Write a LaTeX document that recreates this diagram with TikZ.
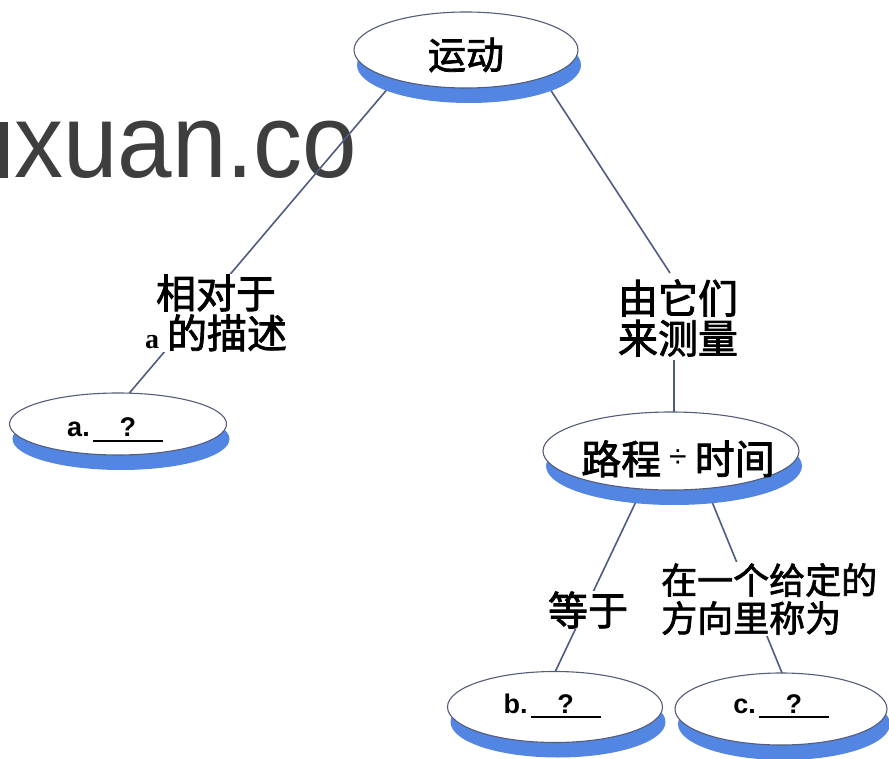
\documentclass[tikz,border=0pt]{standalone}
\usepackage{fontspec}
\usetikzlibrary{shapes.geometric,shadows}
\newfontfamily\cjk{Noto Sans CJK SC}[FakeBold=2]
\newfontfamily\lsans{Liberation Sans}
\newfontfamily\lserif{Liberation Serif}
\pgfdeclarelayer{bg}
\pgfsetlayers{bg,main}
\definecolor{diskblue}{RGB}{82,134,226}
\definecolor{ringc}{RGB}{85,92,120}
\definecolor{connc}{RGB}{78,92,130}
\definecolor{wmark}{RGB}{62,62,62}
\newcommand\intext[2]{\smash{\makebox[0pt]{\raisebox{#1}{#2}}}}
\newcommand\blank[1]{{\lsans\bfseries\fontsize{27}{27}\selectfont #1.}\hspace{3pt}\rlap{\rule[-5pt]{70pt}{1.8pt}}\makebox[70pt]{\lsans\bfseries\fontsize{27}{27}\selectfont ?}}
\tikzset{
  disk/.style={ellipse, draw=ringc, line width=1.1pt, fill=white, inner sep=0pt,
    drop shadow={shadow xshift=3pt, shadow yshift=-15pt, fill=diskblue, opacity=1}},
  lab/.style={font=\cjk\fontsize{40}{40}\selectfont, align=center, fill=white, inner sep=1pt},
  conn/.style={draw=connc, line width=1.6pt}
}
\begin{document}
\begin{tikzpicture}[x=1pt,y=-1pt]
\useasboundingbox (0,0) rectangle (889,759);
% ellipses
\node[disk, minimum width=224pt, minimum height=76pt] (top) at (466,50)
  {\intext{-19pt}{\cjk\fontsize{38}{38}\selectfont 运动}};
\node[disk, minimum width=217pt, minimum height=62pt] (a) at (118,424)
  {\intext{-13pt}{\blank{a}\hspace{6pt}}};
\node[disk, minimum width=256pt, minimum height=78pt] (mid) at (671,451)
  {\intext{-23pt}{\hspace{14pt}\cjk\fontsize{40}{40}\selectfont 路程\hspace{8pt}\raisebox{7pt}{\lsans\fontsize{32}{32}\selectfont ÷}\hspace{8pt}时间}};
\node[disk, minimum width=215pt, minimum height=71pt] (b) at (555,707)
  {\intext{-6pt}{\blank{b}\hspace{6pt}}};
\node[disk, minimum width=212pt, minimum height=72pt] (c) at (781,709)
  {\intext{-4pt}{\blank{c}}};
% labels
\node[lab] (lab1) at (216,313) {相对于\\{\lserif\bfseries\fontsize{28}{28}\selectfont a}\hspace{8pt}的描述};
\node[lab] (lab2) at (678,318) {由它们\\来测量};
\node[lab] (lab3) at (588,610) {等于};
\node[lab, font=\cjk\fontsize{36}{38}\selectfont, align=left, anchor=west] (lab4) at (660,599) {在一个给定的\\方向里称为};
\begin{pgfonlayer}{bg}
\fill[wmark] (0,122) rectangle (8,178);
\node[anchor=base west, inner sep=0pt, font=\lsans\fontsize{98}{98}\selectfont, text=wmark] (wm) at (14,178) {\scalebox{1}[1.07]{xuan.co}};
\draw[conn] ([shift={(-54,10)}]top.center) -- ([shift={(-3,-14)}]a.center);
\draw[conn] ([shift={(65,10)}]top.center) -- ([shift={(-8,-45)}]lab2.center);
\draw[conn] ([shift={(-4,42)}]lab2.center) -- ([shift={(-4,42)}]lab2.center |- mid.center);
\draw[conn] ([shift={(-20,19)}]mid.center) -- ([shift={(-8.5,-17)}]b.center);
\draw[conn] ([shift={(28,19)}]mid.center) -- ([shift={(8,-19)}]c.center);
\end{pgfonlayer}
\end{tikzpicture}
\end{document}
